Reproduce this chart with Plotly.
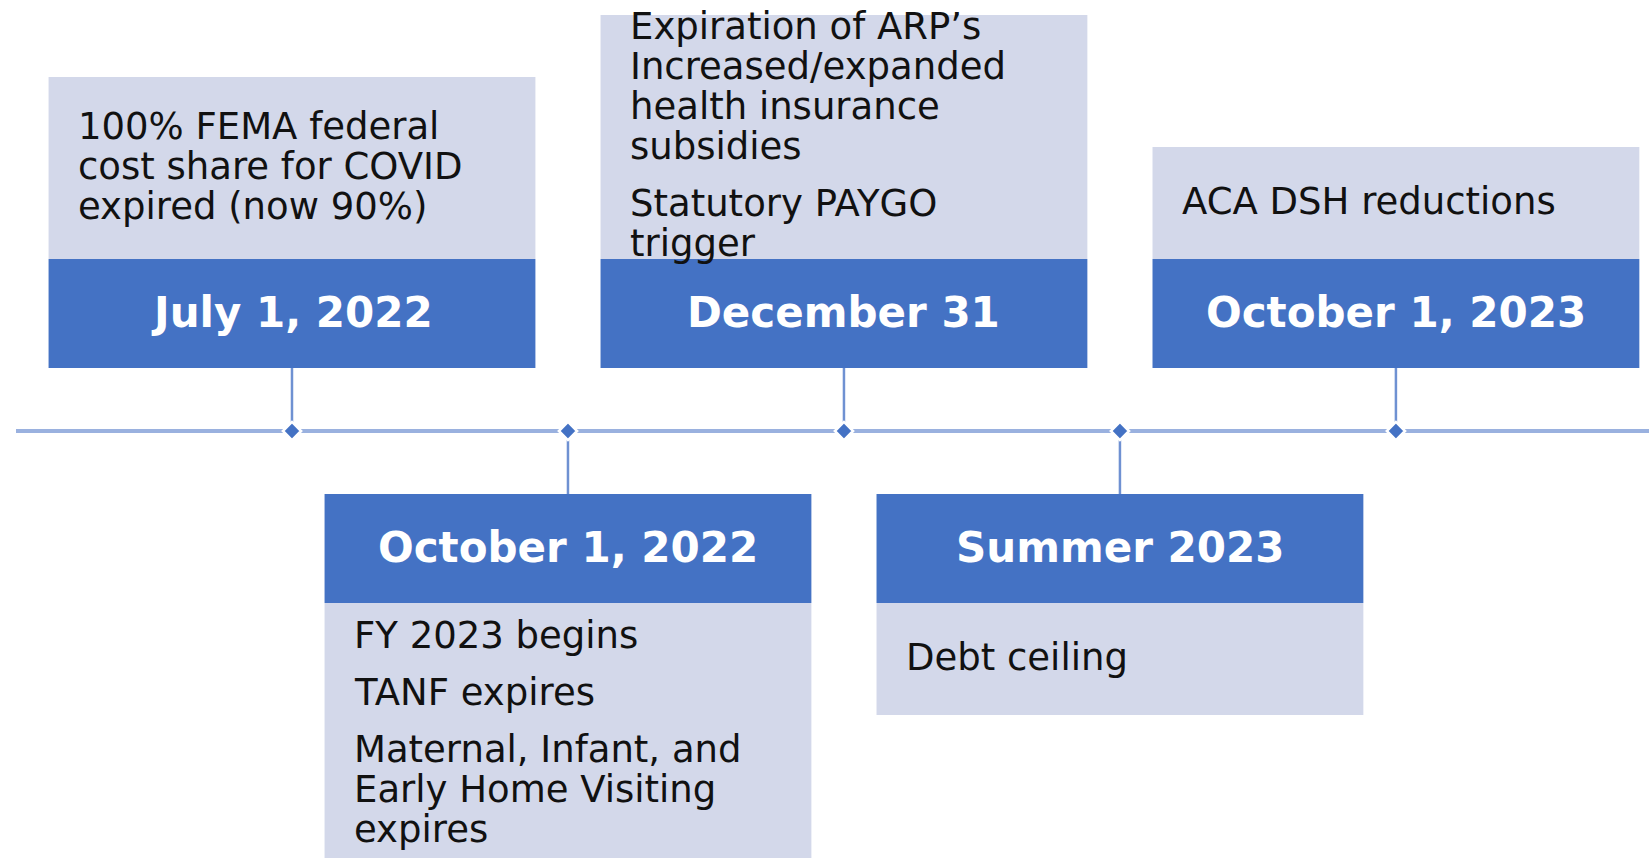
import plotly.graph_objects as go

# ---------------- data ----------------
dates = ["July 1, 2022", "October 1, 2022", "December 31", "Summer 2023", "October 1, 2023"]
sides = ["above", "below", "above", "below", "above"]
descriptions = [
    [["100% FEMA federal", "cost share for COVID", "expired (now 90%)"]],
    [["FY 2023 begins"], ["TANF expires"],
     ["Maternal, Infant, and", "Early Home Visiting", "expires"]],
    [["Expiration of ARP\u2019s", "Increased/expanded", "health insurance", "subsidies"],
     ["Statutory PAYGO", "trigger"]],
    [["Debt ceiling"]],
    [["ACA DSH reductions"]],
]

# ---------------- layout / style ----------------
W, H = 1649, 858
X_RANGE = [-1.058, 4.917]  # event index units
Y_RANGE = [-427, 431]      # pixel-like units, timeline at 0
HALF_W = 0.882             # half box width (index units)
PAD = 0.099                # left text padding (index units)
STEM = 63
DARK_H = 109
LIGHT_H = [182, 262, 244, 112, 112]
LINE_STEP = 40
PARA_STEP = 57

DARK = "#4472C4"
LIGHT = "#D3D8EA"
AXIS_LINE = "#9AB1DF"
STEM_COLOR = "#6F91D2"
FONT = "DejaVu Sans"

fig = go.Figure()
shapes = []
annotations = []

# timeline
shapes.append(dict(type="line", xref="x", yref="y", x0=-1.0, x1=5.2, y0=0, y1=0,
                   line=dict(color=AXIS_LINE, width=4), layer="below"))

for i, (d, side, desc) in enumerate(zip(dates, sides, descriptions)):
    s = 1 if side == "above" else -1
    x0, x1 = i - HALF_W, i + HALF_W
    # stem
    shapes.append(dict(type="line", xref="x", yref="y", x0=i, x1=i, y0=0, y1=s * STEM,
                       line=dict(color=STEM_COLOR, width=2.5), layer="below"))
    # dark header box
    d0, d1 = s * STEM, s * (STEM + DARK_H)
    shapes.append(dict(type="rect", xref="x", yref="y", x0=x0, x1=x1,
                       y0=min(d0, d1), y1=max(d0, d1),
                       fillcolor=DARK, line=dict(width=0), layer="below"))
    # light description box
    l0, l1 = s * (STEM + DARK_H), s * (STEM + DARK_H + LIGHT_H[i])
    shapes.append(dict(type="rect", xref="x", yref="y", x0=x0, x1=x1,
                       y0=min(l0, l1), y1=max(l0, l1),
                       fillcolor=LIGHT, line=dict(width=0), layer="below"))
    # date label
    annotations.append(dict(x=i, y=(d0 + d1) / 2 + 1, xref="x", yref="y", text="<b>%s</b>" % d,
                            showarrow=False, xanchor="center", yanchor="middle",
                            font=dict(family=FONT, size=42, color="white")))
    # description lines, centred vertically in light box
    offsets = []
    pos = 0
    for pi, para in enumerate(desc):
        for li, line in enumerate(para):
            if pi > 0 and li == 0:
                pos += PARA_STEP
            elif offsets:
                pos += LINE_STEP
            offsets.append((pos, line))
    span = offsets[-1][0]
    center = (l0 + l1) / 2 + 2
    top = center + span / 2
    for off, line in offsets:
        annotations.append(dict(x=x0 + PAD, y=top - off, xref="x", yref="y", text=line,
                                showarrow=False, xanchor="left", yanchor="middle",
                                font=dict(family=FONT, size=37, color="#111111")))

# diamond markers on the timeline
fig.add_trace(go.Scatter(x=list(range(len(dates))), y=[0] * len(dates), mode="markers",
                         marker=dict(symbol="diamond", size=14, color=DARK,
                                     line=dict(color="white", width=2.5)),
                         hoverinfo="text", text=dates, showlegend=False))

fig.update_layout(
    width=W, height=H,
    margin=dict(l=0, r=0, t=0, b=0),
    paper_bgcolor="white", plot_bgcolor="white",
    xaxis=dict(range=X_RANGE, visible=False, fixedrange=True),
    yaxis=dict(range=Y_RANGE, visible=False, fixedrange=True),
    shapes=shapes, annotations=annotations,
    showlegend=False,
)

fig.write_html("out.html",
               config={"displayModeBar": False},
               post_script="document.body.style.margin='0';document.body.style.overflow='hidden';")
